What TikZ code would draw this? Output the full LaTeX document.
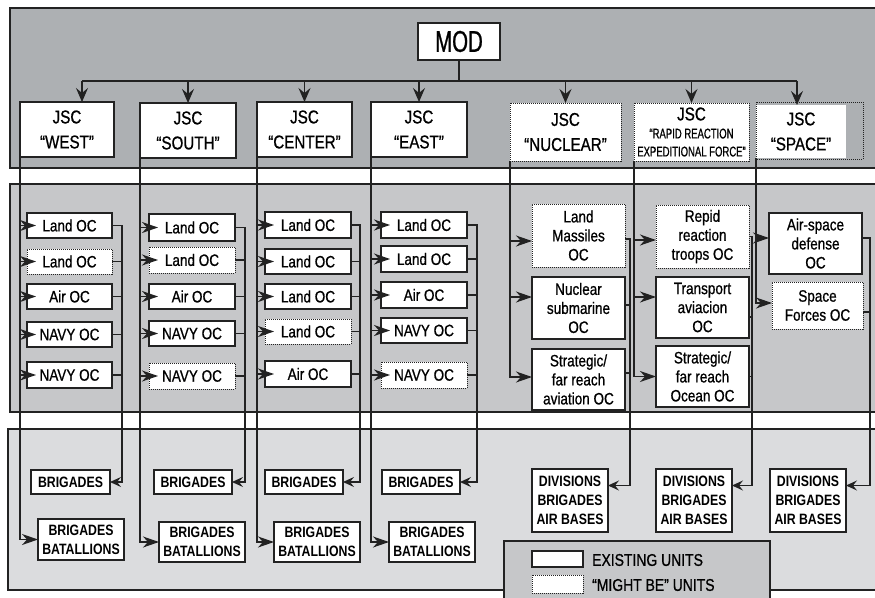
\documentclass[tikz,border=0pt]{standalone}
\usepackage{fontspec}
\setmainfont{Liberation Sans}[FakeStretch=0.82, UprightFeatures={FakeBold=0.8}]
\newfontfamily\narrowfont{Liberation Sans}[FakeStretch=0.68, FakeBold=0.8]
\usetikzlibrary{arrows.meta}
\definecolor{bandtop}{HTML}{ADB0B3}
\definecolor{bandmid}{HTML}{C6C7C9}
\definecolor{bandbot}{HTML}{DBDCDE}
\definecolor{ink}{HTML}{222222}
\newcommand{\mkbox}[7]{\node[#1, minimum width={(#4-#2)*1pt}, minimum height={(#5-#3)*1pt}] (#6) at ({(#2+#4)/2},{(#3+#5)/2}) {#7};}
\tikzset{
 band/.style={draw=ink, line width=1.2pt},
 unit/.style={draw=ink, fill=white, line width=1.6pt, inner sep=0pt, outer sep=0pt, align=center, text=black},
 maybe/.style={unit, line width=1pt, dash pattern=on 1pt off 1pt},
 maybeline/.style={draw=ink, line width=1pt, dash pattern=on 1pt off 1pt},
 jscf/.style={font=\fontsize{18.5}{25}\selectfont},
 ocf/.style={font=\fontsize{16.5}{19}\selectfont},
 botbox/.style={unit, line width=2.2pt, font=\bfseries\fontsize{15}{19}\selectfont},
 conn/.style={draw=ink, line width=1.3pt},
 arrT/.style={conn, -{Stealth[length=14pt,width=12pt,inset=5pt]}},
 arrM/.style={conn, -{Stealth[length=16pt,width=11pt,inset=5pt]}},
 arrB/.style={conn, -{Stealth[length=11pt,width=10pt,inset=4pt]}},
}
\begin{document}
\begin{tikzpicture}[x=1pt,y=-1pt]
\useasboundingbox (0,0) rectangle (875,597);
% bands
\draw[band, fill=bandtop] (10,8) rectangle (890,168);
\draw[band, fill=bandmid] (10,184) rectangle (890,412);
\draw[band, fill=bandbot] (8,429) rectangle (890,590);
\draw[band, fill=bandmid] (504,541) rectangle (770,610);

% top level
\mkbox{unit,font=\narrowfont\fontsize{30}{30}\selectfont}{418}{23}{500}{60}{mod}{MOD}
\mkbox{unit,jscf}{20}{102}{114}{157}{jw}{JSC\\“WEST”}
\mkbox{unit,jscf}{140}{103}{236}{158}{js}{JSC\\“SOUTH”}
\mkbox{unit,jscf}{257}{102}{352}{157}{jc}{JSC\\“CENTER”}
\mkbox{unit,jscf}{371}{102}{467}{157}{je}{JSC\\“EAST”}
\mkbox{maybe,jscf}{510}{103}{621}{161}{jn}{JSC\\“NUCLEAR”}
\mkbox{maybe,jscf}{634}{103}{749}{161}{jr}{JSC\\[-7pt]{\narrowfont\fontsize{14}{15}\selectfont “RAPID REACTION}\\[-7pt]{\narrowfont\fontsize{14}{15}\selectfont EXPEDITIONAL FORCE”}}
\mkbox{unit,draw=none,jscf}{756}{105}{846}{158}{jsp}{JSC\\“SPACE”}
\draw[maybeline] (756,102) rectangle (863,159);

% operational commands
\foreach \n/\ya/\yb/\t/\s in {1/213/238/Land OC/unit, 2/249/274/Land OC/maybe, 3/284/309/Air OC/unit, 4/322/347/NAVY OC/unit, 5/362/388/NAVY OC/unit}
  {\mkbox{\s,ocf}{27}{\ya}{112}{\yb}{a\n}{\t}}
\foreach \n/\ya/\yb/\t/\s in {1/214/241/Land OC/unit, 2/247/273/Land OC/maybe, 3/284/309/Air OC/unit, 4/321/346/NAVY OC/unit, 5/363/389/NAVY OC/maybe}
  {\mkbox{\s,ocf}{149}{\ya}{235}{\yb}{b\n}{\t}}
\foreach \n/\ya/\yb/\t/\s in {1/212/238/Land OC/unit, 2/249/274/Land OC/unit, 3/284/309/Land OC/unit, 4/319/344/Land OC/maybe, 5/361/387/Air OC/unit}
  {\mkbox{\s,ocf}{265}{\ya}{351}{\yb}{c\n}{\t}}
\foreach \n/\ya/\yb/\t/\s in {1/212/238/Land OC/unit, 2/246/272/Land OC/unit, 3/282/308/Air OC/unit, 4/318/343/NAVY OC/unit, 5/362/388/NAVY OC/maybe}
  {\mkbox{\s,ocf}{381}{\ya}{467}{\yb}{d\n}{\t}}
\mkbox{maybe,ocf}{532}{204}{625}{267}{e1}{Land\\Massiles\\OC}
\mkbox{unit,ocf}{532}{277}{625}{339}{e2}{Nuclear\\submarine\\OC}
\mkbox{unit,ocf}{532}{349}{625}{410}{e3}{Strategic/\\far reach\\aviation OC}
\mkbox{maybe,ocf}{656}{205}{749}{268}{f1}{Repid\\reaction\\troops OC}
\mkbox{unit,ocf}{656}{277}{749}{338}{f2}{Transport\\aviacion\\OC}
\mkbox{unit,ocf}{656}{346}{749}{407}{f3}{Strategic/\\far reach\\Ocean OC}
\mkbox{unit,ocf}{769}{213}{862}{274}{g1}{Air-space\\defense\\OC}
\mkbox{maybe,ocf}{772}{282}{863}{329}{g2}{Space\\Forces OC}

% subordinate units
\mkbox{botbox}{31}{470}{110}{494}{q1}{BRIGADES}
\mkbox{botbox}{38}{519}{124}{560}{p1}{BRIGADES\\BATALLIONS}
\mkbox{botbox}{154}{470}{232}{494}{q2}{BRIGADES}
\mkbox{botbox}{159}{522}{245}{562}{p2}{BRIGADES\\BATALLIONS}
\mkbox{botbox}{265}{470}{343}{494}{q3}{BRIGADES}
\mkbox{botbox}{274}{522}{360}{562}{p3}{BRIGADES\\BATALLIONS}
\mkbox{botbox}{382}{470}{460}{494}{q4}{BRIGADES}
\mkbox{botbox}{389}{522}{475}{562}{p4}{BRIGADES\\BATALLIONS}
\mkbox{botbox}{532}{469}{608}{532}{r1}{DIVISIONS\\BRIGADES\\AIR BASES}
\mkbox{botbox}{656}{469}{732}{532}{r2}{DIVISIONS\\BRIGADES\\AIR BASES}
\mkbox{botbox}{770}{469}{846}{532}{r3}{DIVISIONS\\BRIGADES\\AIR BASES}

% legend
\mkbox{unit}{532}{551}{583}{567}{l1}{}
\mkbox{maybe}{532}{575}{583}{593}{l2}{}
\node[anchor=west, inner sep=0pt, font=\fontsize{17}{19}\selectfont] (t1) at (592,560) {EXISTING UNITS};
\node[anchor=west, inner sep=0pt, font=\fontsize{17}{19}\selectfont] (t2) at (592,585) {“MIGHT BE” UNITS};

% top connectors
\coordinate (busy) at (0,81);
\coordinate (wtop) at ([xshift=15pt]jw.north);
\coordinate (sptop) at ([xshift=-4pt]jsp.north);
\draw[conn] (mod.south) -- (mod.south |- busy);
\draw[conn] (wtop |- busy) -- (sptop |- busy);
\draw[arrT] (wtop |- busy) -- (wtop);
\foreach \j in {js,jc,je,jn,jr} \draw[arrT] (\j.north |- busy) -- (\j.north);
\draw[arrT] (sptop |- busy) -- (sptop);

% columns 1-4
\foreach \c/\j/\k/\p/\q in {a/jw/122/p1/q1, b/js/245/p2/q2, c/jc/360/p3/q3, d/je/477/p4/q4} {
  \draw[arrM] (\j.south west) |- (\p.west);
  \foreach \i in {1,...,5} \draw[arrM] (\j.south west |- \c\i.west) -- ([xshift=9pt]\c\i.west);
  \coordinate (k) at (\k,0);
  \draw[arrB] (\c1.east) -- (\c1.east -| k) |- (\q.east);
  \foreach \i in {2,...,5} \draw[conn] (\c\i.east) -- (\c\i.east -| k);
}

% column 5
\coordinate (e1a) at ([yshift=-5.5pt]e1.west);
\coordinate (e2a) at ([yshift=11pt]e2.west);
\coordinate (e3a) at ([yshift=2.5pt]e3.west);
\draw[arrM] (jn.south west) |- (e3a);
\draw[arrM] (jn.south west |- e1a) -- (e1a);
\draw[arrM] (jn.south west |- e2a) -- (e2a);
\coordinate (k5) at (630,0);
\coordinate (e1s) at ([yshift=-3.5pt]e1.east);
\coordinate (e2s) at ([yshift=3pt]e2.east);
\coordinate (e3s) at ([yshift=6.5pt]e3.east);
\coordinate (r1a) at ([yshift=15pt]r1.east);
\draw[arrB] (e1s) -- (e1s -| k5) |- (r1a);
\draw[conn] (e2s) -- (e2s -| k5);
\draw[conn] (e3s) -- (e3s -| k5);

% column 6
\coordinate (f1a) at ([yshift=-3.5pt]f1.west);
\coordinate (f2a) at ([yshift=10.5pt]f2.west);
\draw[arrM] (jr.south west) |- (f3.west);
\draw[arrM] (jr.south west |- f1a) -- (f1a);
\draw[arrM] (jr.south west |- f2a) -- (f2a);
\coordinate (k6) at (752,0);
\coordinate (f2s) at ([yshift=-9.5pt]f2.east);
\coordinate (r2a) at ([yshift=15pt]r2.east);
\draw[arrB] (f1.east) -- (f1.east -| k6) |- (r2a);
\draw[conn] (f2s) -- (f2s -| k6);
\draw[conn] (f3.east) -- (f3.east -| k6);

% column 7
\coordinate (g1a) at ([yshift=5.5pt]g1.west);
\coordinate (g2a) at ([yshift=2.5pt]g2.west);
\draw[arrM] (jsp.south west) |- (g2a);
\draw[arrM] (jsp.south west |- g1a) -- (g1a);
\coordinate (k7) at (870,0);
\coordinate (g1s) at ([yshift=5.5pt]g1.east);
\coordinate (g2s) at ([yshift=-6.5pt]g2.east);
\coordinate (r3a) at ([yshift=15pt]r3.east);
\draw[arrB] (g1s) -- (g1s -| k7) |- (r3a);
\draw[conn] (g2s) -- (g2s -| k7);
\end{tikzpicture}
\end{document}
